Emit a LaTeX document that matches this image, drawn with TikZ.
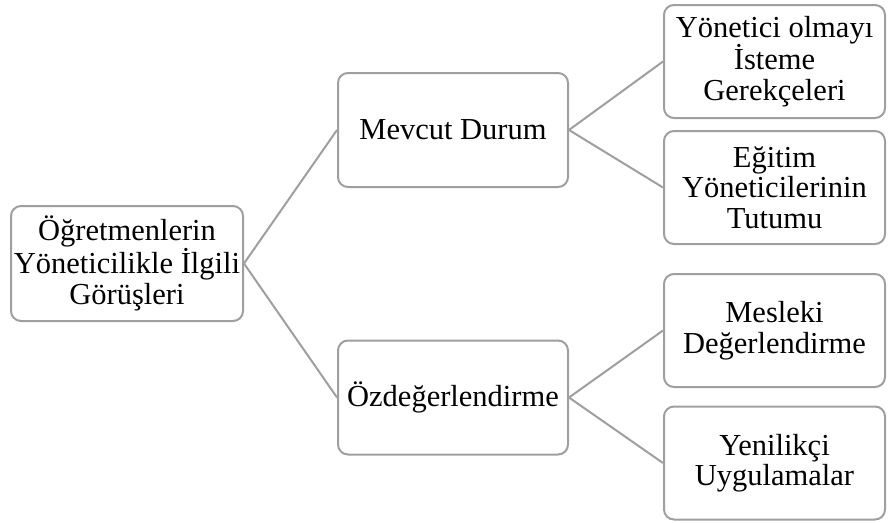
\documentclass[tikz,border=0pt]{standalone}
\usepackage{fontspec}
\setmainfont{Liberation Serif}
\usepackage{xcolor}

\begin{document}
\begin{tikzpicture}[
          x=1pt, y=1pt,
          box/.style={draw=gray!75, line width=2pt, rounded corners=10pt, fill=white, align=center,
                      inner sep=2pt, font=\fontsize{30.5}{30.5}\selectfont},
          root/.style={box, minimum width=232pt, minimum height=115pt},
          mid/.style={box, minimum width=230pt, minimum height=114pt},
          leaf/.style={box, minimum width=221pt, minimum height=113pt},
          link/.style={draw=gray!75, line width=2pt}
        ]
          \useasboundingbox (0,0) rectangle (888,-522);

          % Root
          \node[root] (views) at (127,-263.5) {Öğretmenlerin\\Yöneticilikle İlgili\\Görüşleri};

          % Main branches
          \node[mid] (current) at (453,-130) {Mevcut Durum};
          \node[mid] (selfeval) at (453,-397.5) {Özdeğerlendirme};

          % Leaves
          \node[leaf] (reasons) at (774.5,-61.5) {Yönetici olmayı\\İsteme\\Gerekçeleri};
          \node[leaf] (attitude) at (774.5,-187.5) {Eğitim\\Yöneticilerinin\\Tutumu};
          \node[leaf] (profeval) at (774.5,-330.5) {Mesleki\\Değerlendirme};
          \node[leaf] (innov) at (774.5,-463) {Yenilikçi\\Uygulamalar};

          % Connections
          \draw[link] (views.east) -- (current.west);
          \draw[link] (views.east) -- (selfeval.west);
          \draw[link] (current.east) -- (reasons.west);
          \draw[link] (current.east) -- (attitude.west);
          \draw[link] (selfeval.east) -- (profeval.west);
          \draw[link] (selfeval.east) -- (innov.west);
        \end{tikzpicture}
\end{document}
